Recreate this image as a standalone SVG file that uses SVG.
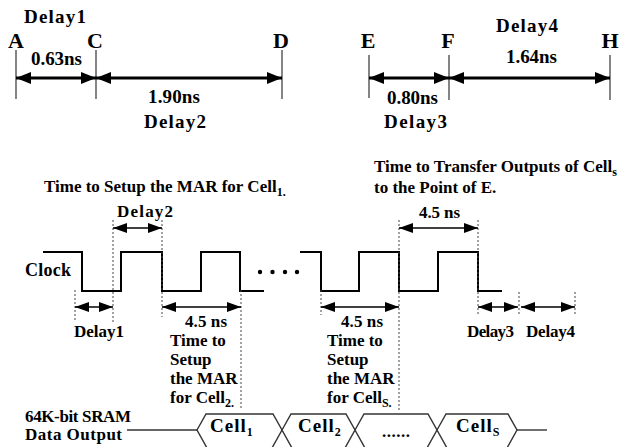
<svg xmlns="http://www.w3.org/2000/svg" width="621" height="447" viewBox="0 0 621 447" font-family="Liberation Serif, DejaVu Serif, serif" font-weight="bold">
<style>
text{fill:#000}
.big{font-size:22px}
.d{font-size:19px}
.m{font-size:17px}
.sub{font-size:12px}
.tick{stroke:#333;stroke-width:1.2}
.thick{stroke:#000;stroke-width:3;marker-start:url(#ahB);marker-end:url(#ahB)}
.thin{stroke:#000;stroke-width:1.5;marker-start:url(#ahS);marker-end:url(#ahS)}
.dot{stroke:#444;stroke-width:1;stroke-dasharray:2 2}
.clk{fill:none;stroke:#000;stroke-width:2}
.bus{fill:none;stroke:#333;stroke-width:1.4}
</style>
<defs>
<marker id="ahB" viewBox="0 0 15 12" refX="15" refY="6" markerWidth="15" markerHeight="12" markerUnits="userSpaceOnUse" orient="auto-start-reverse"><path d="M0,0L15,6L0,12z" fill="#000"/></marker>
<marker id="ahS" viewBox="0 0 14 10" refX="14" refY="5" markerWidth="14" markerHeight="10" markerUnits="userSpaceOnUse" orient="auto-start-reverse"><path d="M0,0L14,5L0,10z" fill="#000"/></marker>
</defs>

<g id="top-timeline">
<line class="tick" x1="16" y1="50" x2="16" y2="99"/>
<line class="tick" x1="96" y1="50" x2="96" y2="99"/>
<line class="tick" x1="282" y1="50" x2="282" y2="99"/>
<line class="tick" x1="369" y1="55" x2="369" y2="98"/>
<line class="tick" x1="449" y1="55" x2="449" y2="100"/>
<line class="tick" x1="610" y1="55" x2="610" y2="100"/>
<text class="big" x="16" y="48" text-anchor="middle">A</text>
<text class="big" x="95" y="48" text-anchor="middle">C</text>
<text class="big" x="281" y="48" text-anchor="middle">D</text>
<text class="big" x="368" y="48" text-anchor="middle">E</text>
<text class="big" x="448" y="48" text-anchor="middle">F</text>
<text class="big" x="610" y="48" text-anchor="middle">H</text>
<text class="d" x="24" y="23" textLength="62">Delay1</text>
<text class="d" x="31" y="65" textLength="51">0.63ns</text>
<text class="d" x="148" y="103" textLength="52">1.90ns</text>
<text class="d" x="144" y="128" textLength="62">Delay2</text>
<text class="d" x="496" y="32" textLength="62">Delay4</text>
<text class="d" x="506" y="63" textLength="51">1.64ns</text>
<text class="d" x="387" y="104" textLength="51">0.80ns</text>
<text class="d" x="384" y="128" textLength="63">Delay3</text>
</g>

<g id="labels">
<text class="m" x="44" y="192">Time to Setup the MAR for Cell<tspan class="sub" dy="4">1.</tspan></text>
<text class="m" x="374" y="172">Time to Transfer Outputs of Cell<tspan class="sub" dy="4">s</tspan></text>
<text class="m" x="374" y="193">to the Point of E.</text>
<text class="m" x="117" y="217" textLength="56">Delay2</text>
<text class="m" x="419" y="218" textLength="41">4.5 ns</text>
<text class="m" x="25" y="276" style="font-size:18px" textLength="46">Clock</text>
<text class="m" x="74" y="337" textLength="50">Delay1</text>
<text class="m" x="185" y="327" textLength="42">4.5 ns</text>
<text class="m" x="170" y="346">Time to</text>
<text class="m" x="170" y="365">Setup</text>
<text class="m" x="170" y="384">the MAR</text>
<text class="m" x="170" y="403">for Cell<tspan class="sub" dy="4">2.</tspan></text>
<text class="m" x="341" y="327" textLength="42">4.5 ns</text>
<text class="m" x="327" y="346">Time to</text>
<text class="m" x="327" y="365">Setup</text>
<text class="m" x="327" y="384">the MAR</text>
<text class="m" x="327" y="403">for Cell<tspan class="sub" dy="4">S.</tspan></text>
<text class="m" x="467" y="337" textLength="47">Delay3</text>
<text class="m" x="526" y="337" textLength="49">Delay4</text>
<text class="m" x="25" y="422" textLength="106">64K-bit SRAM</text>
<text class="m" x="25" y="440" textLength="97">Data Output</text>
</g>

<g id="clock">
<path class="clk" d="M43,252H82V291H121V252H162V291H201V252H240V291H264"/>
<path class="clk" d="M300,252H321V291H359V252H399V291H438V252H478V291H502"/>
<circle cx="260" cy="272" r="2.2"/>
<circle cx="272.5" cy="272" r="2.2"/>
<circle cx="285" cy="272" r="2.2"/>
<circle cx="297" cy="272" r="2.2"/>
</g>

<g id="data-bus">
<line class="bus" x1="127" y1="430" x2="197" y2="430"/>
<path class="bus" d="M197,430L206,414H273L282,430L272,448H207Z"/>
<path class="bus" d="M282,430L291,414H346L355,430L345,448H292Z"/>
<path class="bus" d="M355,430L364,414H428L437,430L427,448H365Z"/>
<path class="bus" d="M437,430L446,414H508L517,430L507,448H447Z"/>
<line class="bus" x1="517" y1="430" x2="547" y2="430"/>
<text class="d" x="210" y="432" letter-spacing="1">Cell<tspan class="sub" font-size="13" dy="4">1</tspan></text>
<text class="d" x="298" y="432" letter-spacing="1">Cell<tspan class="sub" font-size="13" dy="4">2</tspan></text>
<text class="m" x="382" y="437" textLength="28">......</text>
<text class="d" x="456" y="432" letter-spacing="1">Cell<tspan class="sub" font-size="13" dy="4">S</tspan></text>
</g>

<g id="connectors">
<line class="thick" x1="16" y1="78" x2="96" y2="78"/>
<line class="thick" x1="96" y1="78" x2="282" y2="78"/>
<line class="thick" x1="369" y1="78" x2="449" y2="78"/>
<line class="thick" x1="449" y1="78" x2="610" y2="78"/>
<line class="dot" x1="75" y1="290" x2="75" y2="322"/>
<line class="dot" x1="113" y1="220" x2="113" y2="322"/>
<line class="dot" x1="162" y1="220" x2="162" y2="317"/>
<line class="dot" x1="241" y1="290" x2="241" y2="408"/>
<line class="dot" x1="321" y1="290" x2="321" y2="315"/>
<line class="dot" x1="399" y1="220" x2="399" y2="412"/>
<line class="dot" x1="478" y1="220" x2="478" y2="315"/>
<line class="dot" x1="519" y1="292" x2="519" y2="315"/>
<line class="dot" x1="575" y1="292" x2="575" y2="315"/>
<line class="thin" x1="113" y1="228" x2="162" y2="228"/>
<line class="thin" x1="399" y1="228" x2="478" y2="228"/>
<line class="thin" x1="75" y1="307" x2="113" y2="307"/>
<line class="thin" x1="162" y1="307" x2="241" y2="307"/>
<line class="thin" x1="321" y1="307" x2="399" y2="307"/>
<line class="thin" x1="478" y1="307" x2="518" y2="307"/>
<line class="thin" x1="521" y1="307" x2="575" y2="307"/>
</g>
</svg>
